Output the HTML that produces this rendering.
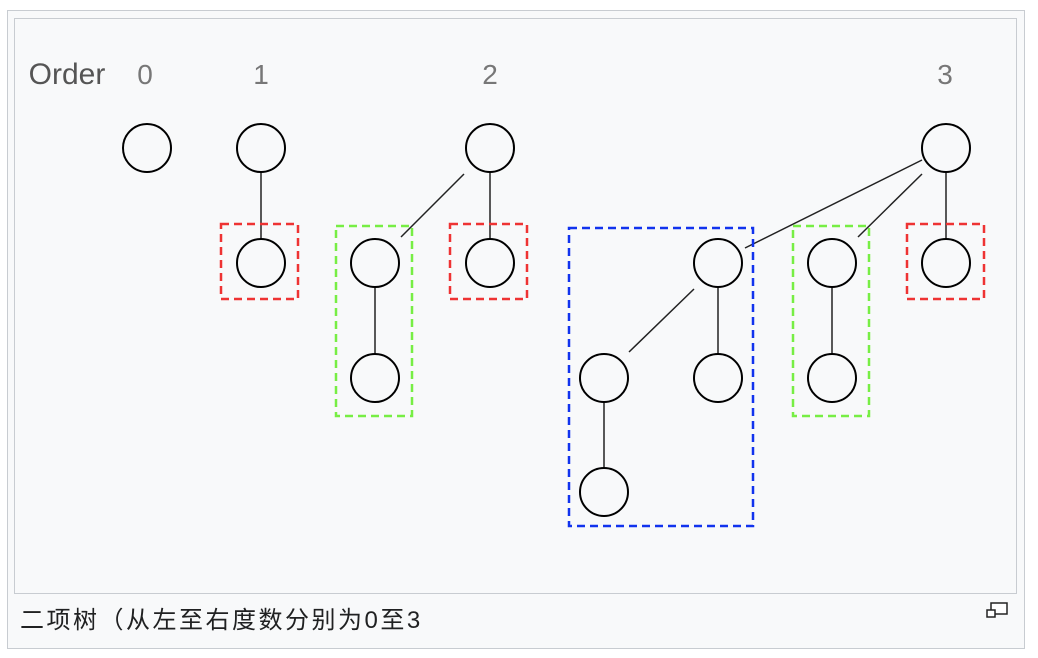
<!DOCTYPE html>
<html><head><meta charset="utf-8"><style>
body{margin:0;background:#fff;width:1038px;height:658px;overflow:hidden;font-family:"Liberation Sans","Noto Sans CJK SC",sans-serif}
.outer{position:absolute;left:7px;top:10px;width:1016px;height:637px;border:1px solid #c8ccd1;background:#f8f9fa}
.inner{position:absolute;left:14px;top:18px;width:1001px;height:574px;border:1px solid #c8ccd1;background:#f8f9fa}
.cap{position:absolute;left:20px;top:600px;font-size:24px;letter-spacing:2.5px;color:#202122}
</style></head><body>
<div class="outer"></div><div class="inner"></div>
<svg style="position:absolute;left:0;top:0" width="1038" height="658">
<g font-size="28" fill="#777" text-anchor="middle" font-family="Liberation Sans, sans-serif">
<text x="67" y="84" fill="#555" font-size="30">Order</text>
<text x="145" y="84">0</text><text x="261" y="84">1</text><text x="490" y="84">2</text><text x="945" y="84">3</text>
</g>
<g stroke="#222" stroke-width="1.5">
<line x1="261" y1="172" x2="261" y2="239"/><line x1="464" y1="174" x2="401" y2="237"/>
<line x1="490" y1="172" x2="490" y2="239"/><line x1="375" y1="287" x2="375" y2="354"/>
<line x1="922" y1="160" x2="745" y2="248"/><line x1="922" y1="174" x2="858" y2="237"/>
<line x1="946" y1="172" x2="946" y2="239"/><line x1="694" y1="289" x2="629" y2="352"/>
<line x1="718" y1="287" x2="718" y2="354"/><line x1="604" y1="402" x2="604" y2="468"/>
<line x1="832" y1="287" x2="832" y2="354"/>
</g>
<g fill="none" stroke-width="2.5" stroke-dasharray="8,5">
<rect x="221" y="224" width="77" height="75" stroke="#ee3333"/>
<rect x="450" y="224" width="77" height="75" stroke="#ee3333"/>
<rect x="907" y="224" width="77" height="75" stroke="#ee3333"/>
<rect x="336" y="226" width="76" height="190" stroke="#77ee44"/>
<rect x="793" y="226" width="76" height="190" stroke="#77ee44"/>
<rect x="569" y="228" width="184" height="298" stroke="#1133ee"/>
</g>
<g fill="none" stroke="#000" stroke-width="2">
<circle cx="147" cy="148" r="24"/><circle cx="261" cy="148" r="24"/><circle cx="261" cy="263" r="24"/>
<circle cx="490" cy="148" r="24"/><circle cx="375" cy="263" r="24"/><circle cx="375" cy="378" r="24"/><circle cx="490" cy="263" r="24"/>
<circle cx="946" cy="148" r="24"/><circle cx="718" cy="263" r="24"/><circle cx="604" cy="378" r="24"/><circle cx="718" cy="378" r="24"/><circle cx="604" cy="492" r="24"/>
<circle cx="832" cy="263" r="24"/><circle cx="832" cy="378" r="24"/><circle cx="946" cy="263" r="24"/>
</g>
<g fill="#fff" stroke="#222" stroke-width="1.5">
<rect x="991" y="603" width="16" height="11"/><rect x="987" y="610" width="8" height="7"/>
</g>
</svg>
<div class="cap">二项树（从左至右度数分别为0至3</div>
</body></html>
